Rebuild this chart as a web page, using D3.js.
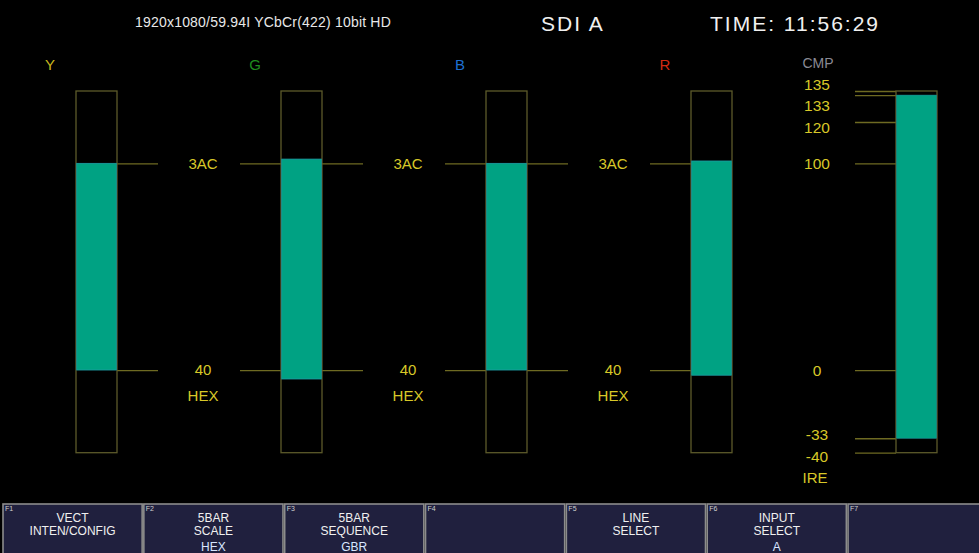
<!DOCTYPE html>
<html><head><meta charset="utf-8">
<script src="https://cdn.jsdelivr.net/npm/d3@7"></script>
<style>
html,body{margin:0;padding:0;background:#000;}
svg{display:block;font-family:"Liberation Sans",Arial,sans-serif;}
</style></head>
<body>
<svg id="c" width="979" height="553"></svg>
<script>
// ---- data ----
const channels = ["Y", "G", "B", "R"];
const barTopHex = [0x3AC, 0x3BE, 0x3AC, 0x3B6];
const barBottomHex = [0x040, 0x01A, 0x040, 0x02A];
const hexTickValues = [0x3AC, 0x040];
const hexTickLabels = ["3AC", "40"];
const hexUnit = "HEX";
const cmpTicks = [135, 133, 120, 100, 0, -33, -40];
const cmpBar = [-33, 133];
const cmpLabel = "CMP";
const cmpUnit = "IRE";
const headerFormat = "1920x1080/59.94I YCbCr(422) 10bit HD";
const headerInput = "SDI A";
const headerTime = "TIME: 11:56:29";
const fkeyNames = ["F1","F2","F3","F4","F5","F6","F7"];
const fkeyLine1 = ["VECT","5BAR","5BAR","","LINE","INPUT",""];
const fkeyLine2 = ["INTEN/CONFIG","SCALE","SEQUENCE","","SELECT","SELECT",""];
const fkeyLine3 = ["","HEX","GBR","","","A",""];

// ---- styles ----
const chColor = {Y:"#c9b81e", G:"#1f8c1f", B:"#1e6fd0", R:"#d22a12", CMP:"#8a8a94"};
const lineCol = "#6e6a22";
const boxCol = "#5c5a2a";
const txtYellow = "#d8c828";
const fillCol = "#00a283";

const svg = d3.select("#c");
svg.append("rect").attr("width",979).attr("height",553).attr("fill","#000");

// scales
const y = d3.scaleLinear().domain([-40, 135]).range([452.7, 91]);
const yHex = d3.scaleLinear().domain([0x040, 0x3AC]).range([y(0), y(100)]);
const x = d3.scalePoint().domain([...channels, "CMP"]).range([76, 896]);
const bw = 41, tl = 41;

// header
svg.append("text").attr("x",135).attr("y",27).attr("fill","#e8e8e8")
  .attr("font-size",14).attr("letter-spacing",0.2).text(headerFormat);
svg.append("text").attr("x",541).attr("y",31).attr("fill","#f0f0f0")
  .attr("font-size",21).attr("letter-spacing",2).text(headerInput);
svg.append("text").attr("x",710).attr("y",31).attr("fill","#f0f0f0")
  .attr("font-size",21).attr("letter-spacing",2).text(headerTime);

// channel bars
channels.forEach((ch, i) => {
  const x0 = x(ch);
  const g = svg.append("g");
  g.append("text").attr("x", x0 - 26).attr("y", 70).attr("fill", chColor[ch])
    .attr("font-size", 15).attr("text-anchor","middle").text(ch);
  if (i > 0) {
    g.append("g").attr("transform", `translate(${x0},0)`)
      .call(d3.axisLeft(yHex).tickValues(hexTickValues).tickSize(tl).tickFormat(""))
      .call(s => { s.select(".domain").remove(); s.selectAll("line").attr("stroke", lineCol).attr("stroke-width",1.3); });
  }
  if (i < channels.length - 1) {
    g.append("g").attr("transform", `translate(${x0 + bw},0)`)
      .call(d3.axisRight(yHex).tickValues(hexTickValues).tickSize(tl).tickFormat(""))
      .call(s => { s.select(".domain").remove(); s.selectAll("line").attr("stroke", lineCol).attr("stroke-width",1.3); });
    const lx = x0 + bw + 86;
    hexTickValues.forEach((v, k) => {
      g.append("text").attr("x", lx).attr("y", yHex(v)).attr("dy","0.36em")
        .attr("text-anchor","middle").attr("fill", txtYellow).attr("font-size",15)
        .text(hexTickLabels[k]);
    });
    g.append("text").attr("x", lx).attr("y", yHex(hexTickValues[1]) + 26).attr("dy","0.36em")
      .attr("text-anchor","middle").attr("fill", txtYellow).attr("font-size",15).text(hexUnit);
  }
  g.append("rect").attr("x", x0).attr("y", y(135)).attr("width", bw).attr("height", y(-40) - y(135))
    .attr("fill","none").attr("stroke", boxCol).attr("stroke-width",1.3);
  g.append("rect").attr("x", x0 + 0.7).attr("y", yHex(barTopHex[i]))
    .attr("width", bw - 1.4).attr("height", yHex(barBottomHex[i]) - yHex(barTopHex[i]))
    .attr("fill", fillCol).attr("stroke","#1e9ea6").attr("stroke-width",0.8);
});

// CMP bar
{
  const x0 = x("CMP");
  const g = svg.append("g");
  g.append("text").attr("x", 818).attr("y", 68).attr("fill", chColor.CMP)
    .attr("font-size", 14).attr("text-anchor","middle").text(cmpLabel);
  g.append("g").attr("transform", `translate(${x0},0)`)
    .call(d3.axisLeft(y).tickValues(cmpTicks).tickSize(tl).tickFormat(""))
    .call(s => { s.select(".domain").remove(); s.selectAll("line").attr("stroke", lineCol).attr("stroke-width",1.3); });
  g.append("rect").attr("x", x0).attr("y", y(135)).attr("width", bw).attr("height", y(-40) - y(135))
    .attr("fill","none").attr("stroke", boxCol).attr("stroke-width",1.3);
  g.append("rect").attr("x", x0 + 0.7).attr("y", y(cmpBar[1]))
    .attr("width", bw - 1.4).attr("height", y(cmpBar[0]) - y(cmpBar[1]))
    .attr("fill", fillCol).attr("stroke","#1e9ea6").attr("stroke-width",0.6);
  const pos = cmpTicks.map(v => y(v));
  const gap = 21.5;
  for (let it = 0; it < 200; it++) {
    for (let k = 0; k < pos.length - 1; k++) {
      const d = pos[k+1] - pos[k];
      if (d < gap) { const m = (gap - d) / 2; pos[k] -= m; pos[k+1] += m; }
    }
  }
  cmpTicks.forEach((v, k) => {
    const off = v > 100 ? 3 : 0;
    g.append("text").attr("x", 817).attr("y", pos[k] + off).attr("dy","0.36em")
      .attr("text-anchor","middle").attr("fill", txtYellow).attr("font-size",15.5).text(v);
  });
  g.append("text").attr("x", 815).attr("y", pos[pos.length-1] + 21).attr("dy","0.36em")
    .attr("text-anchor","middle").attr("fill", txtYellow).attr("font-size",15).text(cmpUnit);
}

// function keys
const fx = d3.scaleBand().domain(fkeyNames).range([3, 3 + 140.6 * 7]).paddingInner(0.012).paddingOuter(0);
const fk = svg.append("g").selectAll("g").data(fkeyNames).join("g")
  .attr("transform", d => `translate(${fx(d)},504)`);
fk.append("rect").attr("x",0).attr("y",0).attr("width", fx.bandwidth()).attr("height", 52)
  .attr("fill","#20203e").attr("stroke","#8c8c8c").attr("stroke-width",1.6);
fk.append("text").attr("x",2).attr("y",7).attr("fill","#d0d0d0").attr("font-size",7).text(d => d);
fk.append("text").attr("x", fx.bandwidth()/2).attr("y",18).attr("text-anchor","middle")
  .attr("fill","#f0f0f0").attr("font-size",12).text((d,i) => fkeyLine1[i]);
fk.append("text").attr("x", fx.bandwidth()/2).attr("y",31).attr("text-anchor","middle")
  .attr("fill","#f0f0f0").attr("font-size",12).text((d,i) => fkeyLine2[i]);
fk.append("text").attr("x", fx.bandwidth()/2).attr("y",47).attr("text-anchor","middle")
  .attr("fill","#d8e6ff").attr("font-size",12).text((d,i) => fkeyLine3[i]);
</script>
</body></html>
